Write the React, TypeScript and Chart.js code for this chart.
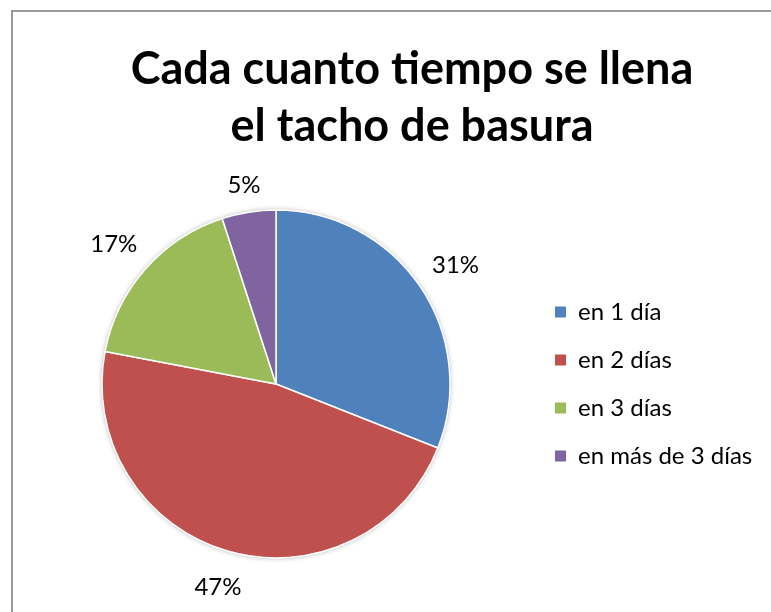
import React, { useEffect, useRef } from "react";
import { Chart, registerables } from "chart.js";

Chart.register(...registerables);

const TITLE_LINES = ["Cada cuanto tiempo se llena", "el tacho de basura"];
const CATEGORIES = ["en 1 día", "en 2 días", "en 3 días", "en más de 3 días"];
const VALUES = [31, 47, 17, 5];
const COLORS = ["#4F81BD", "#C0504D", "#9BBB59", "#8064A2"];

const FONT = "Lato, 'Open Sans', sans-serif";
const W = 771;
const H = 612;
const LEGEND_FONT = 24;
const LEGEND_PAD = 24;
const BOX = 11;
const LEGEND_LEFT = 531; // canvas x of the legend block

const shadowPlugin = {
  id: "pieShadow",
  beforeDatasetsDraw(chart: any) {
    const meta = chart.getDatasetMeta(0);
    const arc = meta.data[0];
    if (!arc) return;
    const { x, y, outerRadius } = arc.getProps(["x", "y", "outerRadius"], true);
    const ctx = chart.ctx;
    ctx.save();
    ctx.shadowColor = "rgba(0,0,0,0.35)";
    ctx.shadowBlur = 5;
    ctx.fillStyle = "#ffffff";
    ctx.beginPath();
    ctx.arc(x, y, outerRadius, 0, Math.PI * 2);
    ctx.fill();
    ctx.restore();
  },
};

const outsideLabels = {
  id: "outsideLabels",
  afterDatasetsDraw(chart: any) {
    const ctx = chart.ctx;
    const meta = chart.getDatasetMeta(0);
    const data = chart.data.datasets[0].data as number[];
    ctx.save();
    ctx.font = `24px ${FONT}`;
    ctx.fillStyle = "#000000";
    ctx.textAlign = "center";
    ctx.textBaseline = "middle";
    meta.data.forEach((el: any, i: number) => {
      const { x, y, startAngle, endAngle, outerRadius } = el.getProps(
        ["x", "y", "startAngle", "endAngle", "outerRadius"],
        true
      );
      const mid = (startAngle + endAngle) / 2;
      const text = `${data[i]}%`;
      const w = ctx.measureText(text).width;
      const h = 20;
      const c = Math.cos(mid);
      const s = Math.sin(mid);
      const extent = Math.abs(c) * (w / 2) + Math.abs(s) * (h / 2);
      const d = outerRadius + 18 + extent;
      ctx.fillText(text, x + c * d, y + s * d + 3);
    });
    ctx.restore();
  },
};

export default function App() {
  const ref = useRef<HTMLCanvasElement | null>(null);

  useEffect(() => {
    document.documentElement.style.overflow = "hidden";
    document.body.style.overflow = "hidden";
    if (!ref.current) return;
    const mctx = ref.current.getContext("2d")!;
    mctx.font = `${LEGEND_FONT}px ${FONT}`;
    const maxText = Math.max(...CATEGORIES.map((t) => mctx.measureText(t).width));
    const legendWidth = LEGEND_PAD + BOX + LEGEND_FONT / 2 + maxText + 10;
    const padRight = Math.max(0, W - LEGEND_LEFT - legendWidth);

    const chart = new Chart(ref.current, {
      type: "pie",
      data: {
        labels: CATEGORIES,
        datasets: [
          {
            data: VALUES,
            backgroundColor: COLORS,
            borderColor: "#ffffff",
            borderWidth: 1.5,
            radius: 174,
          },
        ],
      },
      options: {
        responsive: false,
        animation: false,
        layout: { padding: { left: 21, right: padRight, top: 169, bottom: 13 } },
        plugins: {
          title: { display: false },
          tooltip: { enabled: false },
          legend: {
            position: "right",
            align: "center",
            labels: {
              font: { family: FONT, size: LEGEND_FONT },
              color: "#000000",
              boxWidth: BOX,
              boxHeight: BOX,
              padding: LEGEND_PAD,
              generateLabels(c: any) {
                const base = (Chart as any).overrides.pie.plugins.legend.labels.generateLabels(c);
                return base.map((it: any) => ({ ...it, lineWidth: 0, strokeStyle: "rgba(0,0,0,0)" }));
              },
            },
          },
        },
      },
      plugins: [shadowPlugin, outsideLabels],
    });
    return () => chart.destroy();
  }, []);

  return (
    <div
      style={{
        position: "fixed",
        left: 0,
        top: 0,
        width: W,
        height: H,
        overflow: "hidden",
        background: "#fff",
      }}
    >
      <div
        style={{
          position: "absolute",
          left: 11,
          top: 10,
          width: 900,
          height: 800,
          borderTop: "2px solid #9a9a9a",
          borderLeft: "2px solid #9a9a9a",
          boxSizing: "border-box",
        }}
      />
      <canvas ref={ref} width={W} height={H} style={{ position: "absolute", left: 0, top: 0 }} />
      <div
        style={{
          position: "absolute",
          left: 0,
          top: 39,
          width: 824,
          textAlign: "center",
          fontFamily: FONT,
          fontWeight: 700,
          fontSize: 45,
          lineHeight: "57px",
          color: "#000",
        }}
      >
        {TITLE_LINES.map((l) => (
          <div key={l}>{l}</div>
        ))}
      </div>
    </div>
  );
}
